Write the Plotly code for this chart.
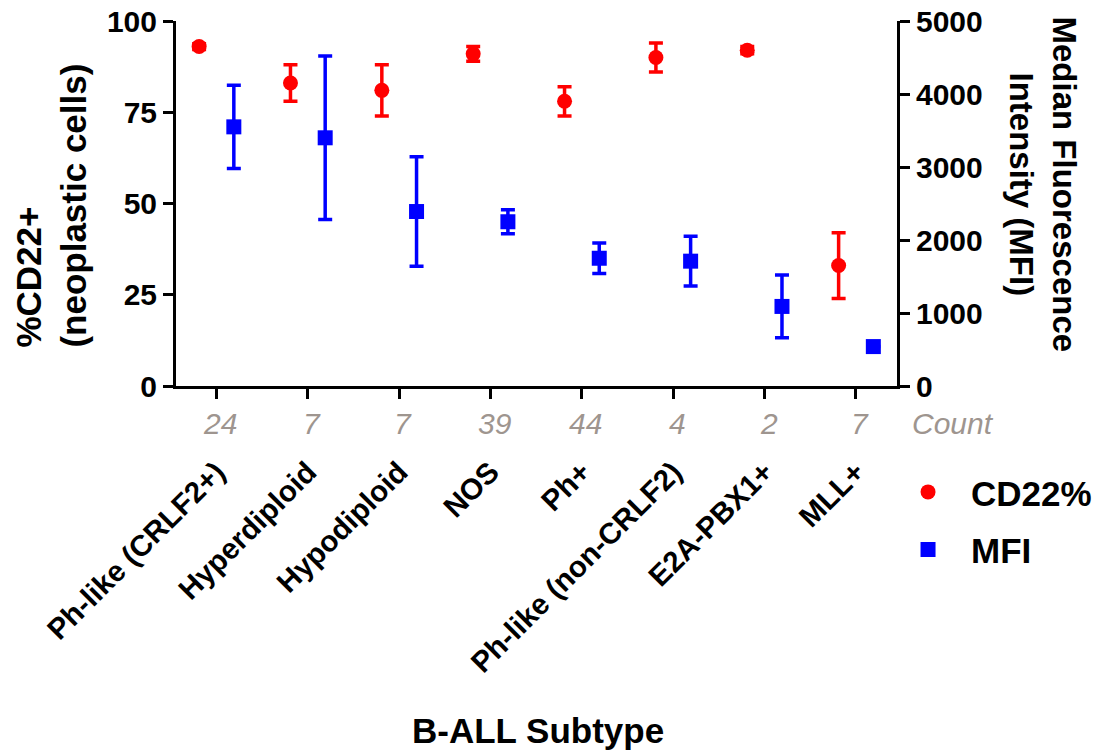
import plotly.graph_objects as go

categories = ["Ph-like (CRLF2+)", "Hyperdiploid", "Hypodiploid", "NOS", "Ph+",
              "Ph-like (non-CRLF2)", "E2A-PBX1+", "MLL+"]
counts = ["24", "7", "7", "39", "44", "4", "2", "7"]
cd22_pct = [93, 83, 81, 91, 78, 90, 92, 33]
cd22_err = [0.8, 5, 7, 2, 4, 4, 1, 9]
mfi = [3550, 3400, 2390, 2250, 1750, 1710, 1090, 540]
mfi_err = [570, 1120, 750, 165, 210, 340, 430, 0]

FONT = "Liberation Sans"
xpos = list(range(len(categories)))
off = 0.19

fig = go.Figure()
fig.add_trace(go.Scatter(
    x=[i - off for i in xpos], y=cd22_pct, mode="markers", name="CD22%",
    marker=dict(symbol="circle", size=15, color="#ff0000"),
    error_y=dict(type="data", array=cd22_err, visible=True, color="#ff0000",
                 thickness=3.5, width=7),
    legendgroup="a", yaxis="y"))
fig.add_trace(go.Scatter(
    x=[i + off for i in xpos], y=mfi, mode="markers", name="MFI",
    marker=dict(symbol="square", size=15, color="#0000ff"),
    error_y=dict(type="data", array=mfi_err, visible=True, color="#0000ff",
                 thickness=3.5, width=7),
    legendgroup="b", yaxis="y2"))

tickfont = dict(family=FONT, size=30, color="black", weight="bold")

fig.update_layout(
    width=1093, height=752,
    margin=dict(l=176, r=196, t=21, b=366, autoexpand=False),
    paper_bgcolor="white", plot_bgcolor="white",
    showlegend=True,
    legend=dict(x=0.9834, y=-0.21, xanchor="left", yanchor="top",
                font=dict(family=FONT, size=35, color="black", weight="bold"),
                tracegroupgap=9, itemwidth=76, bgcolor="rgba(0,0,0,0)"),
    xaxis=dict(range=[-0.443, 7.449], tickmode="array", tickvals=xpos,
               ticktext=categories, tickangle=-45, showgrid=False, zeroline=False,
               showline=True, linecolor="black", linewidth=3,
               ticks="outside", ticklen=10, tickwidth=3, tickcolor="black",
               tickfont=dict(family=FONT, size=29.5, color="black", weight="bold"),
               ticklabelstandoff=44, automargin=False),
    yaxis=dict(range=[0, 100], tickvals=[0, 25, 50, 75, 100], showgrid=False,
               zeroline=False, showline=True, linecolor="black", linewidth=3,
               ticks="outside", ticklen=10, tickwidth=3, tickcolor="black",
               tickfont=tickfont, automargin=False),
    yaxis2=dict(range=[0, 5000], tickvals=[0, 1000, 2000, 3000, 4000, 5000],
                overlaying="y", side="right", showgrid=False, zeroline=False,
                showline=True, linecolor="black", linewidth=3,
                ticks="outside", ticklen=10, tickwidth=3, tickcolor="black",
                tickfont=tickfont, automargin=False),
)

countfont = dict(family=FONT, size=30, color="#9e958f", style="italic")
ann = []
for i, c in enumerate(counts):
    ann.append(dict(x=i, y=-0.103, xref="x", yref="paper", text=c, showarrow=False,
                    xanchor="center", yanchor="middle", xshift=4, font=countfont))
ann.append(dict(x=1.0777, y=-0.103, xref="paper", yref="paper", text="Count",
                showarrow=False, xanchor="center", yanchor="middle", font=countfont))
ann.append(dict(x=-0.173, y=0.495, xref="paper", yref="paper",
                text="%CD22+<br>(neoplastic cells)", textangle=-90, align="left",
                showarrow=False, xanchor="center", yanchor="middle",
                font=dict(family=FONT, size=35, color="black", weight="bold")))
ann.append(dict(x=1.2025, y=0.552, xref="paper", yref="paper",
                text="Median Fluorescence<br>Intensity (MFI)", textangle=90,
                align="center", showarrow=False, xanchor="center", yanchor="middle",
                font=dict(family=FONT, size=33, color="black", weight="bold")))
ann.append(dict(x=0.502, y=-0.944, xref="paper", yref="paper",
                text="B-ALL Subtype", showarrow=False, xanchor="center",
                yanchor="middle",
                font=dict(family=FONT, size=35, color="black", weight="bold")))
fig.update_layout(annotations=ann)

fig.write_html("out.html")
